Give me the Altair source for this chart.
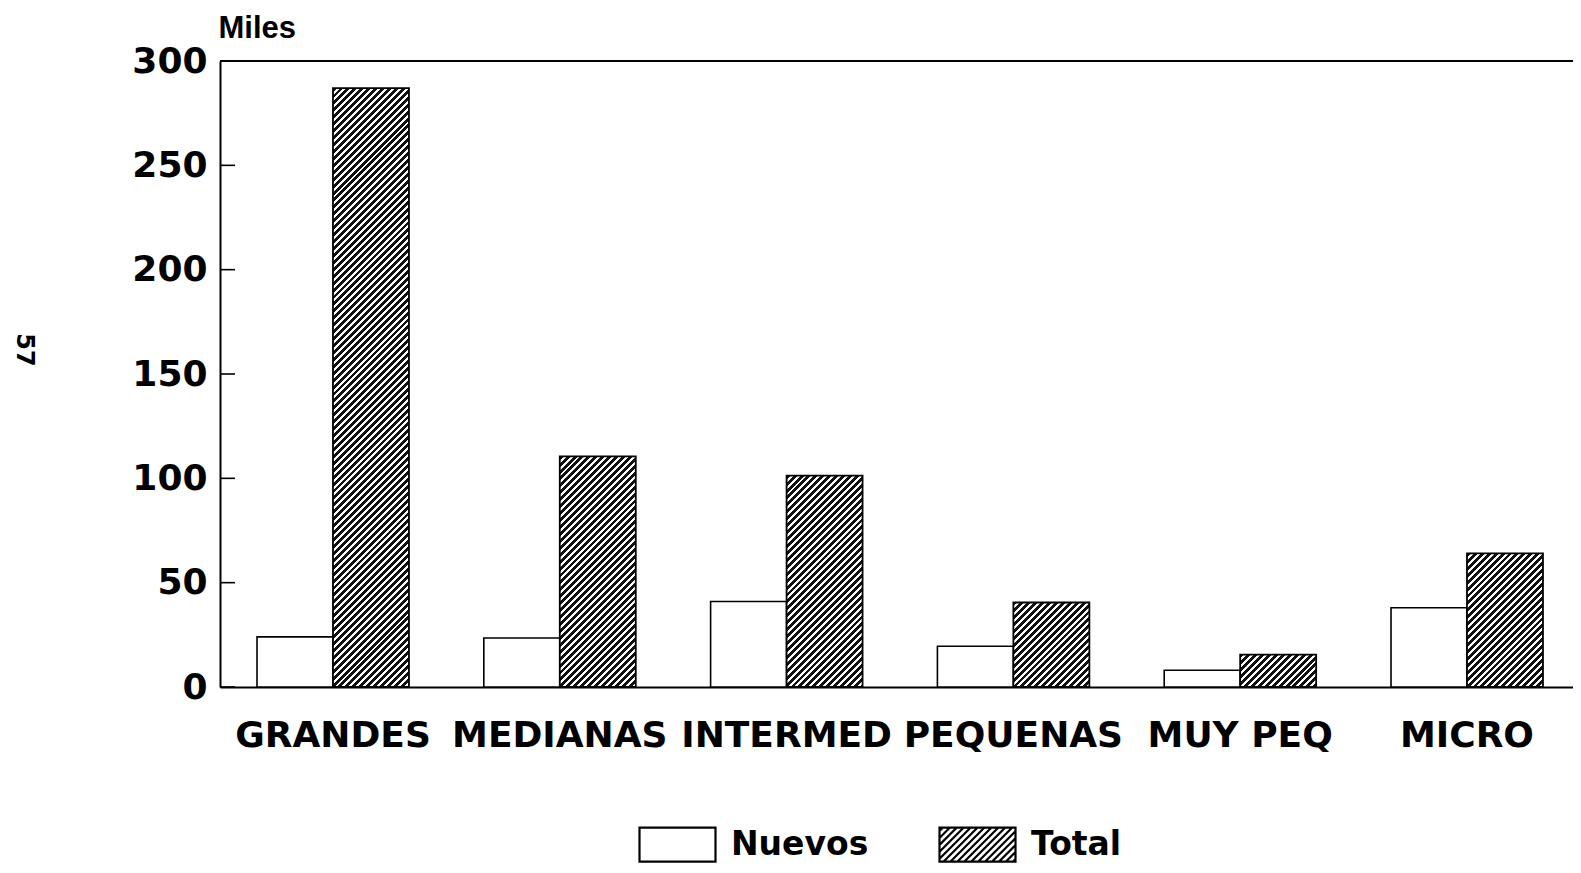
import math
import altair as alt
import pandas as pd

# ---- data ----
categorias = ["GRANDES", "MEDIANAS", "INTERMED", "PEQUENAS", "MUY PEQ", "MICRO"]
nuevos = [24, 23.5, 41, 19.5, 8, 38]
total = [287, 110.5, 101.3, 40.5, 15.5, 64]
series = ["Nuevos", "Total"]
y_ticks = [0, 50, 100, 150, 200, 250, 300]
inner_ticks = [0, 50, 100, 150, 200, 250]
page_number = ["57"]

# ---- layout / style ----
PLOT_W, PLOT_H = 1353, 626
PAD = {"left": 212, "top": 53, "right": 0, "bottom": 178}
FONT = "DejaVu Sans"
INNER = 0.33
OUTER = 0.1478
ALIGN = 0.552
Y_MAX = 300
HATCH_P = 4.9      # perpendicular hatch period (px)
HATCH_F = 0.57     # black fraction

rows = []
for c, n, t in zip(categorias, nuevos, total):
    rows.append({"Categoria": c, "Serie": "Nuevos", "Valor": n})
    rows.append({"Categoria": c, "Serie": "Total", "Valor": t})
df = pd.DataFrame(rows)

step = PLOT_W / (len(categorias) - INNER + 2 * OUTER)
bar_w = step * (1 - INNER) / 2


def hatch_gradient(value):
    W = bar_w
    H = value / Y_MAX * PLOT_H
    s = (W + H) / (W * W + H * H)
    dt = HATCH_P * math.sqrt(2) / (W + H)
    stops = []
    k = 0
    last = 0.0
    while k * dt < 1:
        a = k * dt
        b = min(1.0, a + HATCH_F * dt)
        e = min(1.0, a + dt)
        for off, col in ((a, "#111111"), (b, "#111111"), (b, "#ffffff"), (e, "#ffffff")):
            off = round(max(off, last), 5)
            last = off
            stops.append({"offset": off, "color": col})
        k += 1
    return {"gradient": "linear", "x1": 0, "y1": 0,
            "x2": round(s * W, 6), "y2": round(s * H, 6), "stops": stops}


def legend_paths():
    h = 0.447
    rect = f"M-1,-{h}H1V{h}H-1Z"
    dc = HATCH_P * math.sqrt(2) / 38.0
    parts = [rect]
    c = -1 - h + dc / 2
    while c < 1 + h:
        xa = max(-1, c - h)
        xb = min(1, c + h)
        parts.append(f"M{xa:.3f},{c - xa:.3f}L{xb:.3f},{c - xb:.3f}")
        c += dc
    return rect, "".join(parts)


rect_path, hatch_path = legend_paths()

x_enc = alt.X("Categoria:N", sort=categorias,
              scale=alt.Scale(paddingInner=INNER, paddingOuter=OUTER, align=ALIGN),
              axis=alt.Axis(title=None, labelAngle=0, labelFont=FONT, labelFontWeight="bold",
                            labelFontSize=36, labelColor="black", labelPadding=59,
                            labelBaseline="alphabetic", labelLimit=500, ticks=False,
                            tickSize=0, domainColor="black", domainWidth=2))
xo_enc = alt.XOffset("Serie:N", sort=series,
                     scale=alt.Scale(domain=series, paddingInner=0, paddingOuter=0))
y_axis = alt.Axis(values=y_ticks, title="Miles", titleAngle=0, titleAlign="left",
                  titleBaseline="alphabetic", titleX=-2, titleY=-24,
                  titleFont="Liberation Sans", titleFontWeight="bold", titleFontSize=31,
                  titleColor="black",
                  labelFont=FONT, labelFontWeight="bold", labelFontSize=36,
                  labelColor="black", labelPadding=13, ticks=False, tickSize=0,
                  domainColor="black", domainWidth=2, grid=False)
y_scale = alt.Scale(domain=[0, Y_MAX], nice=False)


def y_enc():
    return alt.Y("Valor:Q", scale=y_scale, axis=y_axis)


base = alt.Chart(df)

nuevos_bars = base.transform_filter(alt.datum.Serie == "Nuevos").mark_bar(
    fill="white", stroke="black", strokeWidth=1.6
).encode(x=x_enc, xOffset=xo_enc, y=y_enc())

total_layers = []
for c, t in zip(categorias, total):
    total_layers.append(
        base.transform_filter((alt.datum.Serie == "Total") & (alt.datum.Categoria == c))
        .mark_bar(fill=hatch_gradient(t), stroke="black", strokeWidth=1.8)
        .encode(x=x_enc, xOffset=xo_enc, y=y_enc())
    )

ticks_layer = alt.Chart(pd.DataFrame({"Valor": inner_ticks})).mark_rule(
    color="black", strokeWidth=1.6
).encode(y=y_enc(), x=alt.value(0), x2=alt.value(15))

top_border = alt.Chart(pd.DataFrame({"Valor": [Y_MAX]})).mark_rule(
    color="black", strokeWidth=2
).encode(y=y_enc())

legend_layer = base.mark_point(filled=False, size=0, stroke="black").encode(
    x=x_enc, xOffset=xo_enc, y=y_enc(),
    shape=alt.Shape("Serie:N", sort=series,
                    scale=alt.Scale(domain=series, range=[rect_path, hatch_path]),
                    legend=alt.Legend(title=None, orient="none", legendX=418, legendY=744,
                                      direction="horizontal", columns=2,
                                      labelFont=FONT, labelFontWeight="bold",
                                      labelFontSize=33, labelColor="black",
                                      labelOffset=14, columnPadding=66, padding=0,
                                      symbolSize=5776, symbolStrokeColor="black",
                                      symbolFillColor="white", symbolStrokeWidth=2.2,
                                      symbolOpacity=1))
)

page_text = alt.Chart(pd.DataFrame({"t": page_number})).mark_text(
    font=FONT, fontWeight="bold", fontSize=24, angle=90, color="black",
    align="center", baseline="middle"
).encode(text="t:N", x=alt.value(-196), y=alt.value(289))

chart = alt.layer(
    nuevos_bars, *total_layers, ticks_layer, top_border, legend_layer, page_text
).properties(
    width=PLOT_W, height=PLOT_H, padding=PAD,
    autosize=alt.AutoSizeParams(type="none"),
).configure_view(stroke=None).configure(background="white")

chart.save("out.html", embed_options={"renderer": "svg", "actions": False})
